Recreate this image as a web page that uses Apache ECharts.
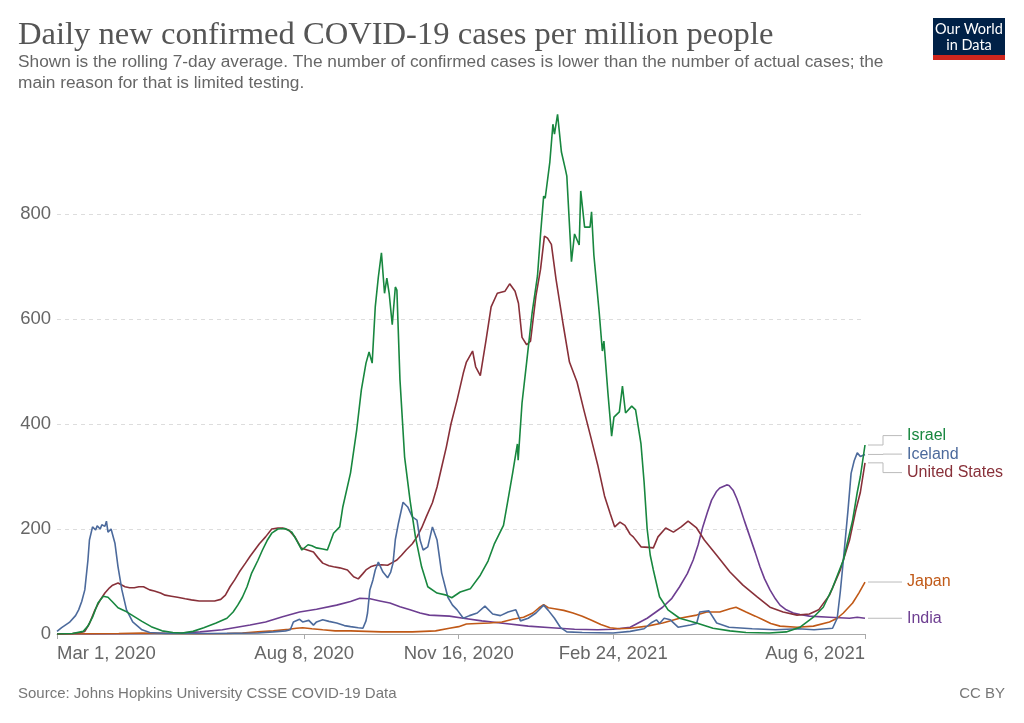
<!DOCTYPE html>
<html>
<head>
<meta charset="utf-8">
<script src="https://cdn.jsdelivr.net/npm/echarts@6/dist/echarts.min.js"></script>
<style>
  html, body { margin: 0; padding: 0; background: #fff; }
  #chart { width: 1024px; height: 723px; }
</style>
</head>
<body>
<div id="chart"></div>
<script>
// x values are days since Mar 1, 2020
var tickDays = [0, 160, 260, 360, 523];
var tickLabels = ['Mar 1, 2020', 'Aug 8, 2020', 'Nov 16, 2020', 'Feb 24, 2021', 'Aug 6, 2021'];
var yTicks = [0, 200, 400, 600, 800];

var israel = [[0,0],[10,1],[17,5],[20,15],[23,32],[26.5,59],[30,72],[33,70],[36,61],[39.5,50],[44,44],[48.5,36],[55,24],[61,14],[68,6],[75,3],[81,2],[88,5],[95,12],[103,21],[110,30],[114,42],[117,55],[120,70],[123,90],[126,116],[130,140],[133,160],[136,178],[139,192],[143,200],[147.5,201],[152,194],[155,179],[158.5,160],[162.5,170],[165,168],[168,164],[172,162],[175,160],[179,192],[183,204],[185,242],[190,307],[194,389],[197,465],[200,516],[202,537],[204,516],[206,623],[208,680],[210,726],[212,649],[213.5,678],[215,649],[217,589],[219,661],[220,655],[222,484],[225,337],[228.5,255],[232,185],[236,128],[240,90],[246,78],[252,74],[255.5,69],[261,80],[267.5,86],[274,112],[279,139],[283,171],[289,207],[292,257],[295,308],[298,362],[298.5,331],[301,440],[304,518],[307.5,611],[311,682],[313,762],[315,834],[316,830],[319,899],[321,971],[322,952],[324,990],[326.5,918],[329,886],[330,872],[333,709],[335,762],[338,741],[339,844],[341.5,775],[345,775],[346,804],[347.5,722],[351,611],[353,539],[354,558],[356.6,459],[359,377],[360.5,413],[364,423],[366,472],[368,421],[372,434],[374.5,427],[378,362],[380,290],[382,200],[384,150],[386,122],[390,71],[395.5,46],[403,30],[414,21],[424.6,11],[435.6,6],[446,3],[461,2],[472,4],[481,13],[489.6,32],[496,51],[502,88],[509,141],[515,217],[518,270],[520,300],[523,360]];

var iceland = [[0,5],[3,12],[8,22],[12,35],[14,46],[16,62],[18,84],[20,140],[21,179],[23,204],[25,198],[26,206],[28,200],[29,208],[31,205],[32,215],[33,194],[35,200],[36,198],[37.5,173],[39.5,128],[42,84],[45,46],[49,23],[55,8],[60,3],[70,1],[100,1],[130,2],[140,4],[148,6],[151,8],[153,23],[157,28],[159,23],[163,26],[166,17],[168,23],[172,27],[176,24],[181,21],[186,16],[190,14],[195,12],[198,11],[200,25],[201,40],[202.5,84],[204.5,103],[206,122],[208,137],[211,118],[214,107],[216,118],[217.5,135],[219,180],[221,211],[224,251],[227,242],[230,223],[233,217],[235,179],[237,160],[240,166],[243,204],[246,179],[249,116],[253,70],[256,55],[259,46],[263,30],[267,35],[272,40],[277,53],[282,38],[287,35],[292,42],[297,46],[300,25],[305,30],[310,40],[315,55],[318,45],[322,30],[326,12],[330,4],[340,3],[360,2],[371,5],[380,10],[385,22],[388,27],[390,20],[393,30],[397,27],[402,13],[410,17],[414,20],[416,42],[422,44],[427,21],[435,13],[450,10],[465,8],[480,10],[490,8],[502,11],[505,30],[507,80],[509,141],[512,236],[514,306],[516,330],[518,345],[520,338],[523,342]];

var unitedStates = [[0,0],[10,1],[15,3],[18,5],[21,20],[24.6,46],[28,65],[31,78],[34,88],[36,93],[39.5,97],[44,90],[47,88],[50,88],[53,90],[56,90],[60,84],[63,82],[67,78],[70,74],[74,72],[78,70],[83,67],[87,65],[92,63],[96,63],[102,63],[106,66],[109,74],[112,90],[115,103],[118,118],[122,135],[125,148],[128,160],[131,172],[135,185],[139,200],[143,202],[146,202],[150,198],[154,185],[158,164],[162,160],[166,156],[169,145],[172,135],[176,130],[179,128],[183,126],[188,122],[192,109],[195,105],[198,115],[200,122],[203,128],[206,131],[210,132],[214,131],[217,136],[220,141],[223,150],[226,160],[230,172],[233,185],[236,202],[239,223],[243,250],[246,280],[249,318],[252,356],[255,400],[259,446],[263,497],[265,518],[269,539],[271,509],[274,492],[277.6,558],[281,623],[285,649],[290,653],[293,667],[296.5,653],[298.7,630],[301,565],[304,551],[306.5,558],[310,644],[313,695],[315.5,758],[317.5,754],[320,742],[323,676],[327.6,590],[331.7,518],[336.6,480],[341,427],[345.6,374],[350,322],[354.4,263],[358,230],[361,204],[364.4,213],[367.6,207],[371,190],[373,185],[378,166],[383,165],[386,164],[389,185],[394,202],[399,194],[404,204],[408.5,215],[414,202],[419,179],[427,150],[435.6,118],[444,93],[453,71],[461.5,51],[470,42],[479,36],[487,38],[493,46],[500,74],[507,122],[513,179],[517,235],[520,270],[523,326]];

var japan = [[0,0],[20,0.5],[40,1],[55,2],[70,1],[90,0.5],[110,1],[120,2],[130,4],[140,6],[150,9],[155,11],[159,12],[165,10],[172,8],[180,6],[190,6],[210,4],[230,4],[245,6],[254,11],[260,14],[265,19],[272,20],[280,21],[288,23],[295,28],[302,32],[308,40],[312,50],[315,56],[318,50],[322,48],[328,45],[334,40],[340,34],[346,26],[352,18],[358,12],[364,10],[371,11],[382,15],[392,21],[403,30],[414,36],[420.5,42],[429,42],[435.6,48],[439.5,51],[446,42],[452,34],[457,27],[462,20],[468,15],[479,13],[489.6,15],[500,23],[505,30],[509,40],[515,59],[519,78],[523,99]];

var india = [[0,0],[20,0],[40,0.5],[60,1],[80,2],[92.6,4],[107,8],[125,17],[135,23],[146,33],[157,42],[168,47],[181,55],[190,62],[196,68],[202.6,67],[209,63],[215.5,59],[222,52],[228.5,46],[235,40],[241,36],[254,34],[263,30],[275,25],[290,20],[305,15],[320,12],[335,9],[350,8],[360,9],[371,13],[382,30],[392,51],[398,68],[403,90],[408,115],[411.8,141],[415,170],[418,204],[421,232],[423.7,255],[427,272],[429,278],[433.5,284],[435,283],[437.6,274],[440,258],[442,242],[445,215],[448.5,185],[452,155],[455,128],[458,105],[461.5,84],[465,67],[468,55],[472,46],[476.6,40],[481,37],[487,34],[500,32],[513,30],[518,32],[523,30]];

var seriesList = [
	{ name: 'India', color: '#6D3E91', data: india },
	{ name: 'Japan', color: '#C05917', data: japan },
	{ name: 'United States', color: '#883039', data: unitedStates },
	{ name: 'Iceland', color: '#4C6A9C', data: iceland },
	{ name: 'Israel', color: '#18873f', data: israel }
];

var chart = echarts.init(document.getElementById('chart'));

var option = {
	animation: false,
	backgroundColor: '#fff',
	title: [{
		text: 'Daily new confirmed COVID-19 cases per million people',
		left: 18,
		top: 19,
		padding: 0,
		textStyle: { fontFamily: 'Liberation Serif', fontWeight: 'normal', fontSize: 32.6, color: '#555' }
	}, {
		text: 'Shown is the rolling 7-day average. The number of confirmed cases is lower than the number of actual cases; the\nmain reason for that is limited testing.',
		left: 18,
		top: 52,
		padding: 0,
		textStyle: { fontFamily: 'Liberation Sans', fontWeight: 'normal', fontSize: 17.3, lineHeight: 21, color: '#666' }
	}, {
		text: 'Source: Johns Hopkins University CSSE COVID-19 Data',
		left: 18,
		top: 686,
		padding: 0,
		textStyle: { fontFamily: 'Liberation Sans', fontWeight: 'normal', fontSize: 15, color: '#777' }
	}, {
		text: 'CC BY',
		right: 19,
		top: 686,
		padding: 0,
		textStyle: { fontFamily: 'Liberation Sans', fontWeight: 'normal', fontSize: 15, color: '#777' }
	}],
	grid: {
		left: 57,
		right: 159,
		top: 109,
		bottom: 89,
		containLabel: false
	},
	xAxis: {
		type: 'value',
		min: 0,
		max: 523,
		axisLine: { show: true, lineStyle: { color: '#aaa', width: 1 } },
		axisTick: { show: true, customValues: tickDays, length: 5, lineStyle: { color: '#aaa' } },
		splitLine: { show: false },
		axisLabel: {
			customValues: tickDays,
			formatter: function (v) { return tickLabels[tickDays.indexOf(v)]; },
			alignMinLabel: 'left',
			alignMaxLabel: 'right',
			margin: 10,
			fontFamily: 'Liberation Sans',
			fontSize: 18.5,
			color: '#666'
		}
	},
	yAxis: {
		type: 'value',
		min: 0,
		max: 1000,
		interval: 200,
		axisLine: { show: false },
		axisTick: { show: false },
		splitLine: {
			show: true,
			showMinLine: false,
			showMaxLine: false,
			lineStyle: { color: '#ddd', type: [4, 4] }
		},
		axisLabel: {
			customValues: yTicks,
			margin: 6,
			fontFamily: 'Liberation Sans',
			fontSize: 18.5,
			color: '#666'
		}
	},
	series: seriesList.map(function (s) {
		return {
			name: s.name,
			type: 'line',
			data: s.data,
			showSymbol: false,
			symbol: 'none',
			smooth: false,
			lineStyle: { color: s.color, width: 1.6 },
			itemStyle: { color: s.color }
		};
	})
};

chart.setOption(option);

// end labels, spread apart so they do not overlap
var gap = 18.5;
var items = seriesList.map(function (s) {
	var last = s.data[s.data.length - 1];
	var p = chart.convertToPixel({ gridIndex: 0 }, last);
	return { name: s.name, color: s.color, endX: p[0], endY: p[1] };
});
items.sort(function (a, b) { return a.endY - b.endY; });
var groups = items.map(function (it) { return { items: [it] }; });
function placeGroup(g) {
	var sum = 0;
	g.items.forEach(function (it) { sum += it.endY; });
	g.top = sum / g.items.length - (g.items.length - 1) / 2 * gap;
}
groups.forEach(placeGroup);
var merged = true;
while (merged) {
	merged = false;
	for (var i = 0; i < groups.length - 1; i++) {
		if (groups[i].top + groups[i].items.length * gap > groups[i + 1].top) {
			groups[i].items = groups[i].items.concat(groups[i + 1].items);
			groups.splice(i + 1, 1);
			placeGroup(groups[i]);
			merged = true;
			break;
		}
	}
}
var elements = [];
groups.forEach(function (g) {
	g.items.forEach(function (it, k) {
		var ly = g.top + k * gap;
		var x0 = it.endX + 3;
		var elbow = x0 + 15;
		elements.push({
			type: 'polyline',
			shape: { points: [[x0, it.endY], [elbow, it.endY], [elbow, ly], [902, ly]] },
			style: { stroke: '#bbb', lineWidth: 1, fill: null },
			silent: true
		});
		elements.push({
			type: 'text',
			x: 907,
			y: ly,
			style: {
				text: it.name,
				fill: it.color,
				font: '16px "Liberation Sans"',
				verticalAlign: 'middle',
				align: 'left'
			}
		});
	});
});

// logo
elements.push({
	type: 'group',
	left: 933,
	top: 18,
	children: [
		{ type: 'rect', shape: { x: 0, y: 0, width: 72, height: 37 }, style: { fill: '#002147' } },
		{ type: 'rect', shape: { x: 0, y: 37, width: 72, height: 5 }, style: { fill: '#ce261e' } },
		{ type: 'text', x: 36, y: 11, style: { text: 'Our World', fill: '#fff', font: '14.5px Lato', align: 'center', verticalAlign: 'middle' } },
		{ type: 'text', x: 36, y: 27, style: { text: 'in Data', fill: '#fff', font: '14.5px Lato', align: 'center', verticalAlign: 'middle' } }
	]
});

chart.setOption({ graphic: elements });
</script>
</body>
</html>
